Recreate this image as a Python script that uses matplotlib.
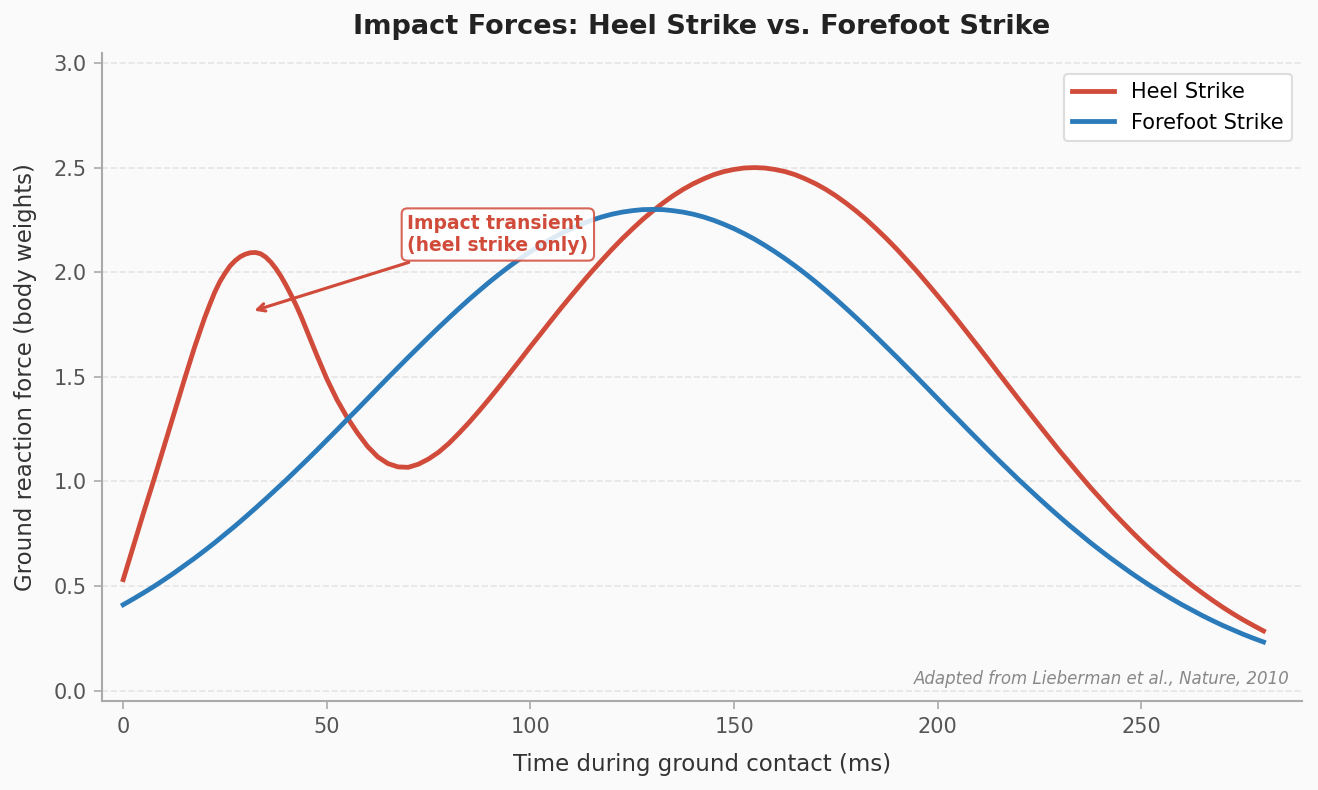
import matplotlib
matplotlib.use("Agg")
import matplotlib.pyplot as plt

# ground reaction force (body weights)
# heel strike sampled finer around the impact peak
heel_time = ([i * 2.5 for i in range(8)] + [20 + i * 1.25 for i in range(21)]
             + [47.5 + i * 2.5 for i in range(94)])
heel = [0.53, 0.69, 0.85, 1.005, 1.165, 1.325, 1.485, 1.64,                  # 0 - 17.5
        1.782, 1.845, 1.905, 1.955, 1.995, 2.03, 2.055, 2.074, 2.086, 2.093,  # 20 - 31.25
        2.094, 2.088, 2.072, 2.048, 2.017, 1.98, 1.937, 1.89, 1.84, 1.785,   # 32.5 - 43.75
        1.725,                                                               # 45
        1.605, 1.49, 1.39, 1.305, 1.232, 1.167, 1.117, 1.085, 1.069, 1.067,  # 47.5 - 70
        1.082, 1.107, 1.14,                                                  # 72.5 - 77.5
        1.182, 1.231, 1.283, 1.339, 1.397, 1.457, 1.519, 1.581,              # 80 - 97.5
        1.644, 1.705, 1.767, 1.828, 1.887, 1.945, 2.002, 2.056, 2.109, 2.159,  # 100 - 122.5
        2.206, 2.251, 2.292, 2.330, 2.365, 2.396, 2.423, 2.446, 2.466, 2.481,  # 125 - 147.5
        2.491, 2.498, 2.500, 2.498, 2.491, 2.481, 2.466, 2.446, 2.423, 2.396,  # 150 - 172.5
        2.365, 2.330, 2.292, 2.251, 2.206, 2.159, 2.109, 2.056, 2.002, 1.945,  # 175 - 197.5
        1.887, 1.828, 1.767, 1.705, 1.643, 1.580, 1.516, 1.453, 1.390, 1.328,  # 200 - 222.5
        1.266, 1.205, 1.144, 1.086, 1.028, 0.971, 0.917, 0.863, 0.812, 0.762,  # 225 - 247.5
        0.714, 0.668, 0.624, 0.581, 0.541, 0.502, 0.466, 0.431, 0.398, 0.367,  # 250 - 272.5
        0.338, 0.311, 0.285]                                                 # 275 - 280

fore_time = [i * 2.5 for i in range(113)]
forefoot = [0.410, 0.438, 0.467, 0.497, 0.529, 0.562, 0.597, 0.632, 0.669, 0.707,  # 0 - 22.5
            0.747, 0.787, 0.829, 0.872, 0.916, 0.961, 1.006, 1.053, 1.100, 1.148,  # 25 - 47.5
            1.197, 1.246, 1.296, 1.345, 1.395, 1.445, 1.495, 1.544, 1.593, 1.641,  # 50 - 72.5
            1.689, 1.736, 1.782, 1.827, 1.871, 1.913, 1.954, 1.993, 2.030, 2.065,  # 75 - 97.5
            2.098, 2.129, 2.158, 2.184, 2.208, 2.229, 2.248, 2.264, 2.277, 2.287,  # 100 - 122.5
            2.294, 2.299, 2.300, 2.299, 2.294, 2.287, 2.277, 2.264, 2.248, 2.229,  # 125 - 147.5
            2.208, 2.184, 2.158, 2.129, 2.098, 2.065, 2.030, 1.993, 1.954, 1.913,  # 150 - 172.5
            1.871, 1.827, 1.782, 1.736, 1.689, 1.641, 1.593, 1.544, 1.495, 1.445,  # 175 - 197.5
            1.395, 1.345, 1.296, 1.246, 1.197, 1.148, 1.100, 1.053, 1.006, 0.961,  # 200 - 222.5
            0.916, 0.872, 0.829, 0.787, 0.747, 0.707, 0.669, 0.632, 0.597, 0.562,  # 225 - 247.5
            0.529, 0.497, 0.467, 0.438, 0.410, 0.384, 0.358, 0.334, 0.311, 0.290,  # 250 - 272.5
            0.269, 0.250, 0.232]                                                 # 275 - 280

red = "#d14b3b"
blue = "#2b7bba"
bg = "#fafafa"

fig = plt.figure(figsize=(1318 / 150, 790 / 150), dpi=150, facecolor=bg)
ax = fig.add_axes([0.0774, 0.1127, 0.9106, 0.8208], facecolor=bg)

ax.plot(heel_time, heel, color=red, lw=2.3, label="Heel Strike")
ax.plot(fore_time, forefoot, color=blue, lw=2.3, label="Forefoot Strike")

ax.set_xlim(-5.2, 289.5)
ax.set_ylim(-0.05, 3.05)
ax.set_yticks([0, 0.5, 1.0, 1.5, 2.0, 2.5, 3.0])
ax.set_xticks([0, 50, 100, 150, 200, 250])

ax.set_title("Impact Forces: Heel Strike vs. Forefoot Strike", fontsize=13,
             fontweight="bold", color="#222222", pad=9)
ax.set_xlabel("Time during ground contact (ms)", fontsize=11, color="#333333", labelpad=8)
ax.set_ylabel("Ground reaction force (body weights)", fontsize=11, color="#333333", labelpad=8)

for s in ["top", "right"]:
    ax.spines[s].set_visible(False)
for s in ["left", "bottom"]:
    ax.spines[s].set_color("#aaaaaa")
    ax.spines[s].set_linewidth(1.0)
ax.tick_params(colors="#aaaaaa", labelcolor="#555555", labelsize=10, length=4)
ax.grid(axis="y", linestyle="--", color="#dddddd", alpha=0.7, lw=0.8)
ax.set_axisbelow(True)

ax.annotate("Impact transient\n(heel strike only)", xy=(31.2, 1.81), xytext=(92, 2.18),
            ha="center", va="center", multialignment="left",
            fontsize=9, fontweight="bold", color=red,
            bbox=dict(boxstyle="round,pad=0.3", fc="white", ec=red, lw=1, alpha=0.85),
            arrowprops=dict(arrowstyle="->", color=red, lw=1.5))

leg = ax.legend(loc="upper right", bbox_to_anchor=(1.0, 0.983), fontsize=10, frameon=True,
                facecolor="white", edgecolor="#dddddd", framealpha=1)

ax.text(0.99, 0.02, "Adapted from Lieberman et al., Nature, 2010", transform=ax.transAxes,
        ha="right", va="bottom", fontsize=8, style="italic", color="#888888")

fig.savefig("out.png", dpi=150, facecolor=bg)
